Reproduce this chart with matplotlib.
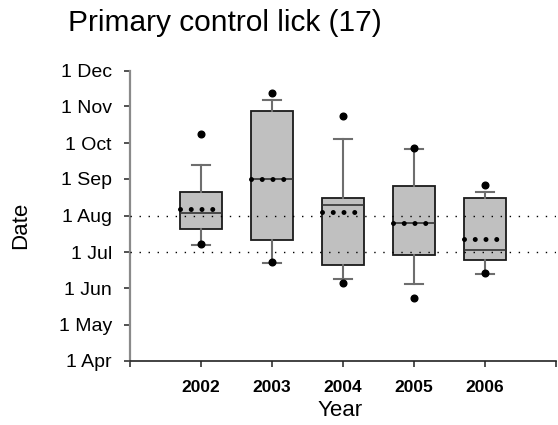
import datetime as dt
import matplotlib
matplotlib.use("Agg")
import matplotlib.pyplot as plt

plt.rcParams["font.family"] = ["Liberation Sans", "DejaVu Sans"]
plt.rcParams["lines.scale_dashes"] = False

# Summary statistics per year, as day-of-year values
years = [2002, 2003, 2004, 2005, 2006]
whisker_low = [188.2, 173.1, 159.9, 155.3, 164.1]
q1 = [202.1, 192.2, 171.1, 180.1, 175.9]
median = [215.0, 243.9, 222.3, 207.1, 183.8]
mean = [218.9, 243.9, 215.8, 207.1, 193.3]
q3 = [232.9, 301.3, 227.6, 237.7, 227.9]
whisker_high = [255.2, 310.0, 277.4, 269.2, 232.9]
outliers = [[189.1, 281.4], [173.9, 315.9], [155.9, 297.0], [143.3, 270.0], [164.6, 238.8]]

# Month ticks (1st of each month) and reference dates
month_names = ["Apr", "May", "Jun", "Jul", "Aug", "Sep", "Oct", "Nov", "Dec"]
month_numbers = [4, 5, 6, 7, 8, 9, 10, 11, 12]
reference_months = [7, 8]


def doy(month, day=1, year=2001):
    return dt.date(year, month, day).timetuple().tm_yday


fig = plt.figure(figsize=(5.58, 4.25), dpi=100)
ax = fig.add_axes([130 / 558, 1 - 360.5 / 425, 426 / 558, 289.8 / 425])

stats = []
for i in range(len(years)):
    stats.append(dict(med=median[i], q1=q1[i], q3=q3[i], whislo=whisker_low[i],
                      whishi=whisker_high[i], mean=mean[i], fliers=outliers[i]))

ax.bxp(stats, positions=years, widths=0.6, capwidths=0.25,
       showmeans=True, meanline=True, patch_artist=True,
       boxprops=dict(facecolor="#c0c0c0", edgecolor="#1a1a1a", linewidth=1.3),
       medianprops=dict(color="#333333", linewidth=1.2),
       meanprops=dict(color="black", linewidth=3.6, linestyle=(0, (0.001, 7.74)),
                      dash_capstyle="round"),
       whiskerprops=dict(color="#6e6e6e", linewidth=1.5),
       capprops=dict(color="#6e6e6e", linewidth=1.5),
       flierprops=dict(marker="o", markerfacecolor="black", markeredgecolor="black",
                       markersize=4.8))

for m in reference_months:
    ax.axhline(doy(m), color="black", linewidth=1.0, linestyle=(0, (1.0, 5.5)), zorder=5)

ax.set_xlim(2001, 2007)
ax.set_ylim(doy(4), doy(12))
ax.set_xticks(list(range(2001, 2008)))
ax.set_xticklabels([""] + [str(y) for y in years] + [""], fontweight="bold", fontsize=12.5)
ax.set_yticks([doy(m) for m in month_numbers])
ax.set_yticklabels(["1 " + n for n in month_names], fontsize=14)

ax.tick_params(axis="y", direction="out", length=4, width=1.2, color="#333333", pad=9)
ax.tick_params(axis="x", direction="out", length=4, width=1.2, color="#333333", pad=10)

for side in ("top", "right"):
    ax.spines[side].set_visible(False)
ax.spines["left"].set_color("#8a8a8a")
ax.spines["left"].set_linewidth(1.6)
ax.spines["bottom"].set_color("#222222")
ax.spines["bottom"].set_linewidth(1.2)

fig.text(340 / 558, 1 - 416 / 425, "Year", ha="center", va="baseline", fontsize=16)
fig.text(20.5 / 558, 1 - 225 / 425, "Date", ha="center", va="center", rotation=90, fontsize=16)
fig.text(68 / 558, 1 - 31 / 425, "Primary control lick (17)", ha="left", va="baseline", fontsize=21.5)

fig.savefig("out.png", dpi=100)
